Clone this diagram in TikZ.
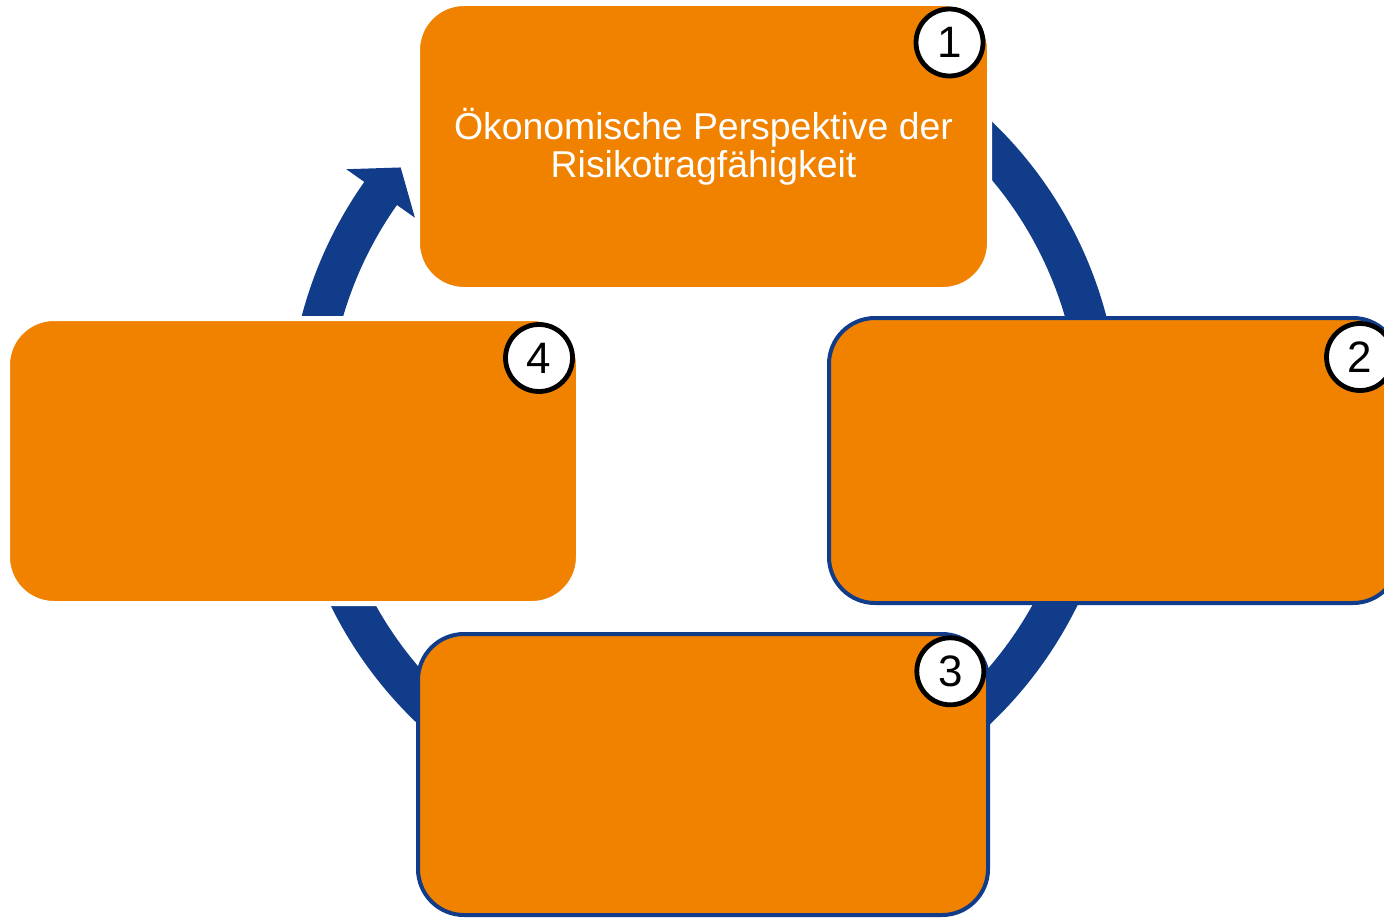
\documentclass[tikz,border=0pt]{standalone}
\usepackage{fontspec}
\setmainfont{Liberation Sans}
\usetikzlibrary{calc}
\definecolor{boxorange}{RGB}{240,130,0}
\definecolor{ringblue}{RGB}{16,60,138}
\tikzset{
  ring/.style={draw=ringblue, line width=20pt, line cap=butt},
  plainbox/.style={rectangle, rounded corners=23.25pt, fill=boxorange, draw=white, line width=2.5pt, inner sep=0pt, outer sep=0pt},
  bluebox/.style={rectangle, rounded corners=23pt, fill=boxorange, draw=ringblue, line width=2pt, inner sep=0pt, outer sep=0pt},
  numcircle/.style={circle, fill=white, draw=black, line width=2.4pt, minimum size=33.5pt, inner sep=0pt, font=\fontsize{22}{22}\selectfont}
}
\begin{document}
\begin{tikzpicture}[x=0.5pt,y=0.5pt]
\useasboundingbox (0,0) rectangle (1384,918);
\clip (0,0) rectangle (1384,918);
\coordinate (C) at (704,496);
% cycle ring with arrow head
\draw[ring] (C) ++(60:198pt) arc[start angle=60, end angle=-215.5, radius=198pt];
\fill[ringblue] ($(C)+(144.75:219pt)$) -- ($(C)+(140:198pt)$) -- ($(C)+(144.75:177pt)$) -- cycle;
% boxes
\node[plainbox, minimum width=286pt, minimum height=143pt, align=center, text=white,
      font=\fontsize{18.7}{18.9}\selectfont] (b1) at (703.5,771.5)
      {Ökonomische Perspektive der\\Risikotragfähigkeit};
\node[bluebox, minimum width=285pt, minimum height=142.5pt] (b2) at (1114,457.5) {};
\node[bluebox, minimum width=285pt, minimum height=140.5pt] (b3) at (703,143.5) {};
\node[plainbox, minimum width=285.5pt, minimum height=142.5pt] (b4) at (293,457) {};
% number circles
\node[numcircle] (n1) at (949.5,875.5) {1};
\node[numcircle] (n2) at (1360,561) {2};
\node[numcircle] (n3) at (950.3,246.7) {3};
\node[numcircle] (n4) at (539,560) {4};
\end{tikzpicture}
\end{document}
